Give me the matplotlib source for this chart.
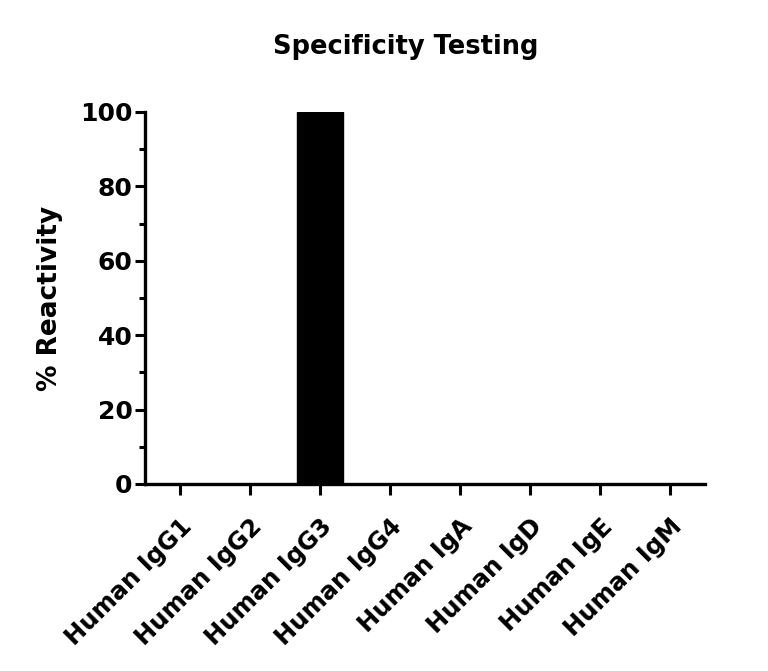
import matplotlib
matplotlib.use('Agg')
import matplotlib.pyplot as plt
from matplotlib.ticker import MultipleLocator

categories = ['Human IgG1', 'Human IgG2', 'Human IgG3', 'Human IgG4',
              'Human IgA', 'Human IgD', 'Human IgE', 'Human IgM']
reactivity = [0, 0, 100, 0, 0, 0, 0, 0]

plt.rcParams['font.family'] = ['DejaVu Sans']
plt.rcParams['font.weight'] = 'bold'

fig = plt.figure(figsize=(7.68, 6.71), dpi=100)
ax = fig.add_axes([0.1888, 0.2787, 0.7292, 0.5544])

x = range(len(categories))
ax.bar(x, reactivity, width=0.66, color='black', edgecolor='black')

ax.set_xlim(-0.5, len(categories) - 0.5)
ax.set_ylim(0, 100)
ax.set_xticks(list(x))
ax.set_xticklabels(categories, rotation=45, ha='right', rotation_mode='anchor',
                   fontsize=17.5, fontweight='bold')
ax.yaxis.set_major_locator(MultipleLocator(20))
ax.yaxis.set_minor_locator(MultipleLocator(10))
ax.tick_params(axis='y', labelsize=18, width=2.2, length=7, pad=2)
ax.tick_params(axis='y', which='minor', width=2.2, length=4)
ax.tick_params(axis='x', width=2.2, length=8, pad=14)

for side in ['top', 'right']:
    ax.spines[side].set_visible(False)
for side in ['left', 'bottom']:
    ax.spines[side].set_linewidth(2.4)

ax.set_ylabel('% Reactivity', fontsize=19, fontweight='bold', labelpad=12)
ax.set_title('Specificity Testing', fontsize=18.5, fontweight='bold', pad=42, x=0.466)

fig.savefig('out.png', dpi=100)
